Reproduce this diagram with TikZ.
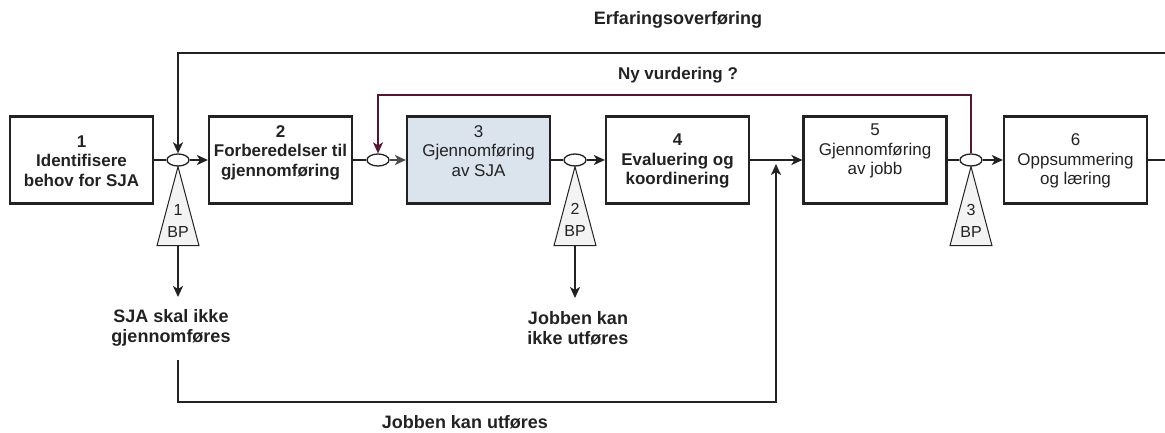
\documentclass[tikz,border=0pt]{standalone}
\usepackage{fontspec}
\setmainfont{Liberation Sans}
\usetikzlibrary{arrows.meta,calc,shapes.geometric}
\definecolor{stepfill}{RGB}{219,228,236}
\definecolor{loopred}{RGB}{84,22,52}
\definecolor{bpfill}{RGB}{243,243,243}
\definecolor{ink}{RGB}{34,34,34}
\begin{document}
\begin{tikzpicture}[x=1pt,y=-1pt,
  stepbox/.style={draw=ink, line width=2.2pt, minimum width=143pt, minimum height=87pt, inner sep=0pt},
  steptext/.style={align=center, font=\fontsize{17}{19.5}\selectfont, text=ink, inner sep=0pt},
  gate/.style={ellipse, draw=ink, line width=1.3pt, fill=white, minimum width=22pt, minimum height=12pt, inner sep=0pt},
  flow/.style={line width=2pt, draw=ink},
  arr/.style={flow, -{Stealth[length=11pt,width=10pt,inset=3pt]}},
  bp/.style={draw=ink, line width=1pt, fill=bpfill},
  bptext/.style={align=center, font=\fontsize{16}{22}\selectfont, text=ink, inner sep=0pt},
  note/.style={align=center, font=\bfseries\fontsize{18}{20}\selectfont, text=ink, inner sep=0pt}
]
\useasboundingbox (0,0) rectangle (1165,433);

% process steps
\node[stepbox] (b1) at (81.5,160) {};
\node[stepbox] (b2) at (280.5,160) {};
\node[stepbox, fill=stepfill] (b3) at (478.5,160) {};
\node[stepbox] (b4) at (677.5,160) {};
\node[stepbox] (b5) at (875,160) {};
\node[stepbox] (b6) at (1075.5,160) {};

\node[steptext, font=\bfseries\fontsize{17}{19.5}\selectfont] (t1) at (81.5,161) {1\\Identifisere\\behov for SJA};
\node[steptext, font=\bfseries\fontsize{17}{19.5}\selectfont] (t2) at (280.5,152.5) {2\\Forberedelser til\\gjennomføring};
\node[steptext] (t3) at (478.5,151) {3\\Gjennomføring\\av SJA};
\node[steptext, font=\bfseries\fontsize{17}{19.5}\selectfont] (t4) at (677.5,161) {4\\Evaluering og\\koordinering};
\node[steptext] (t5) at (875,151) {5\\Gjennomføring\\av jobb};
\node[steptext] (t6) at (1075.5,161) {6\\Oppsummering\\og læring};

% decision gates
\node[gate] (e1) at (178,160) {};
\node[gate] (e2) at (378,160) {};
\node[gate] (e3) at (575,160) {};
\node[gate] (e5) at (971,160) {};

% main flow
\draw[flow] (b1.east) -- (e1.west);
\draw[arr] (e1.east) -- (b2.west);
\draw[flow] (b2.east) -- (e2.west);
\draw[arr, draw=black!70, line width=1.4pt] (e2.east) -- (b3.west);
\draw[flow] (b3.east) -- (e3.west);
\draw[arr] (e3.east) -- (b4.west);
\draw[arr] (b4.east) -- (b5.west);
\draw[flow] (b5.east) -- (e5.west);
\draw[arr] (e5.east) -- (b6.west);
\coordinate (outR) at (1165,160);
\draw[flow] (b6.east) -- (outR);

% decision points
\draw[bp] (e1.south) -- ++(21,79) -- ++(-42,0) -- cycle;
\draw[bp] (e3.south) -- ++(21,79) -- ++(-42,0) -- cycle;
\draw[bp] (e5.south) -- ++(21,79) -- ++(-42,0) -- cycle;
\coordinate (bp1) at ($(e1.south)+(0,79)$);
\coordinate (bp2) at ($(e3.south)+(0,79)$);
\coordinate (bp3) at ($(e5.south)+(0,79)$);
\node[bptext] (n1) at (178,221) {1\\BP};
\node[bptext] (n2) at (575,220) {2\\BP};
\node[bptext] (n3) at (971,221) {3\\BP};

% outcomes
\node[note] (l1) at (171,328) {SJA skal ikke\\gjennomføres};
\node[note] (l2) at (578,328) {Jobben kan\\ikke utføres};
\coordinate (d1) at (178,297);
\coordinate (d2) at (575,298);
\draw[arr] (bp1) -- (d1);
\draw[arr] (bp2) -- (d2);

% bypass when the job can be carried out
\coordinate (s1) at (178,360);
\coordinate (jn) at (776,160);
\draw[arr] (s1) |- (776,402) -- ($(jn)+(0,4)$);
\node[note] (l3) at (465,422) {Jobben kan utføres};

% experience transfer loop
\coordinate (inR) at (1165,53);
\draw[arr] (inR) -| (e1.north);
\node[note] (l4) at (678,20) {Erfaringsoverføring};

% re-assessment loop
\draw[arr, draw=loopred, line width=1.6pt] (e5.north) |- (378,95) -- (e2.north);
\node[note, font=\bfseries\fontsize{17}{20}\selectfont] (l5) at (678,75) {Ny vurdering ?};
\end{tikzpicture}
\end{document}
